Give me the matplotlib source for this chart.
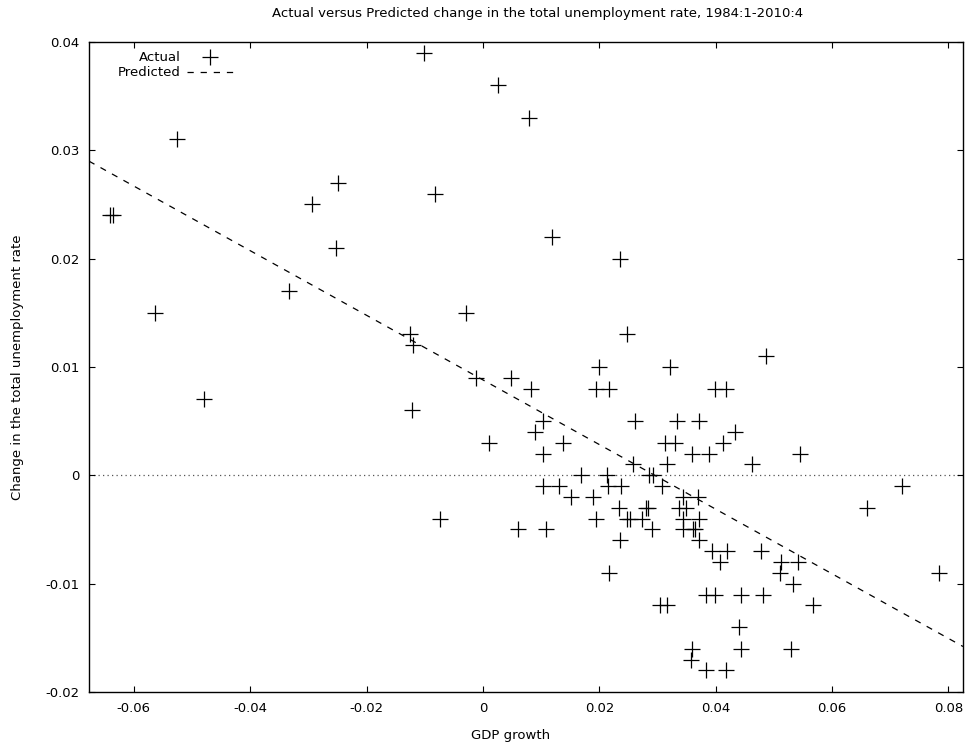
import numpy as np
import matplotlib
matplotlib.use("Agg")
from matplotlib import pyplot as plt

# quarterly observations, grouped by change in unemployment rate
actual_dy = [0.039, 0.036, 0.033, 0.031, 0.027, 0.026, 0.025, 0.024, 0.024,
             0.022, 0.021, 0.020, 0.017, 0.015, 0.015, 0.013, 0.013, 0.012,
             0.011, 0.010, 0.010, 0.009, 0.009,
             0.008, 0.008, 0.008, 0.008, 0.008, 0.007, 0.006,
             0.005, 0.005, 0.005, 0.005, 0.004, 0.004,
             0.003, 0.003, 0.003, 0.003, 0.003,
             0.002, 0.002, 0.002, 0.002, 0.001, 0.001, 0.001,
             0.0, 0.0, 0.0, 0.0,
             -0.001, -0.001, -0.001, -0.001, -0.001, -0.001,
             -0.002, -0.002, -0.002, -0.002,
             -0.003, -0.003, -0.003, -0.003, -0.003, -0.003,
             -0.004, -0.004, -0.004, -0.004, -0.004, -0.004, -0.004,
             -0.005, -0.005, -0.005, -0.005, -0.005, -0.005,
             -0.006, -0.006, -0.007, -0.007, -0.007,
             -0.008, -0.008, -0.008, -0.009, -0.009, -0.009, -0.010,
             -0.011, -0.011, -0.011, -0.011,
             -0.012, -0.012, -0.012, -0.014,
             -0.016, -0.016, -0.016, -0.017, -0.018, -0.018]
gdp_growth = [-0.0101, 0.0026, 0.0079, -0.0526, -0.0249, -0.0083, -0.0293, -0.0641, -0.0635,
              0.0119, -0.0253, 0.0236, -0.0334, -0.0564, -0.0029, -0.0125, 0.0247, -0.0120,
              0.0487, 0.0199, 0.0322, -0.0012, 0.0048,
              0.0083, 0.0195, 0.0217, 0.0399, 0.0417, -0.0480, -0.0122,
              0.0103, 0.0262, 0.0333, 0.0371, 0.0089, 0.0433,
              0.0011, 0.0137, 0.0313, 0.0330, 0.0412,
              0.0103, 0.0359, 0.0389, 0.0545, 0.0258, 0.0316, 0.0463,
              0.0169, 0.0214, 0.0285, 0.0292,
              0.0104, 0.0131, 0.0215, 0.0237, 0.0307, 0.0721,
              0.0152, 0.0190, 0.0343, 0.0369,
              0.0233, 0.0281, 0.0283, 0.0337, 0.0349, 0.0660,
              -0.0074, 0.0195, 0.0248, 0.0252, 0.0273, 0.0343, 0.0372,
              0.0061, 0.0108, 0.0290, 0.0343, 0.0361, 0.0364,
              0.0235, 0.0372, 0.0393, 0.0420, 0.0478,
              0.0407, 0.0513, 0.0541, 0.0217, 0.0510, 0.0784, 0.0532,
              0.0384, 0.0399, 0.0444, 0.0481,
              0.0304, 0.0316, 0.0567, 0.0440,
              0.0359, 0.0444, 0.0529, 0.0357, 0.0383, 0.0417]

# fitted line end points
pred_x = [-0.0677, 0.0825]
pred_y = [0.0290, -0.0158]

xticks = [-0.06, -0.04, -0.02, 0, 0.02, 0.04, 0.06, 0.08]
xtick_labels = ["-0.06", "-0.04", "-0.02", "0", "0.02", "0.04", "0.06", "0.08"]
yticks = [-0.02, -0.01, 0, 0.01, 0.02, 0.03, 0.04]
ytick_labels = ["-0.02", "-0.01", "0", "0.01", "0.02", "0.03", "0.04"]

fs = 9.5
fig = plt.figure(figsize=(9.65, 7.47), dpi=100)
ax = fig.add_axes([89/965, 55/747, (963-89)/965, (692-42)/747])

ax.axhline(0, color="#555555", lw=0.9, ls=(0, (1, 2.6)), zorder=1)
ax.plot(gdp_growth, actual_dy, "+", color="black", ms=12, mew=0.9,
        label="Actual", zorder=3)
ax.plot(pred_x, pred_y, color="black", lw=0.9, ls=(0, (5, 5.5)),
        label="Predicted", zorder=2)

ax.set_xlim(pred_x[0], pred_x[1])
ax.set_ylim(-0.02, 0.04)
ax.set_xticks(xticks)
ax.set_xticklabels(xtick_labels)
ax.set_yticks(yticks)
ax.set_yticklabels(ytick_labels)
ax.tick_params(direction="in", length=4.5, width=0.8, top=True, right=True,
               labelsize=fs, pad=7)
for s in ax.spines.values():
    s.set_linewidth(1.0)

ax.legend(loc="upper left", bbox_to_anchor=(0.022, 1.0), frameon=False,
          markerfirst=False, numpoints=1, handlelength=3.5, fontsize=fs,
          borderpad=0.2, labelspacing=0.15, handletextpad=0.5)

fig.text(538/965, 1 - 13/747, "Actual versus Predicted change in the total unemployment rate, 1984:1-2010:4",
         ha="center", va="center", fontsize=fs)
fig.text(511/965, 1 - 735/747, "GDP growth", ha="center", va="center", fontsize=fs)
fig.text(18/965, 1 - 367/747, "Change in the total unemployment rate", ha="center",
         va="center", rotation=90, fontsize=fs)

fig.savefig("out.png", dpi=100)
